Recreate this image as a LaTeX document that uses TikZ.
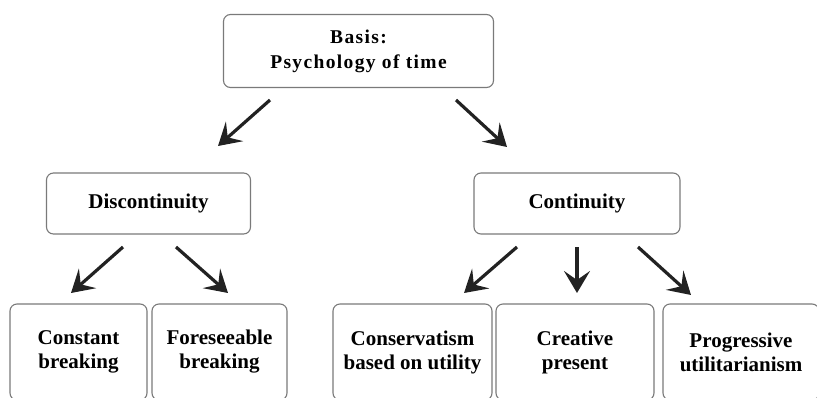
\documentclass[tikz,border=0pt]{standalone}
\usepackage{fontspec}
\setmainfont{Liberation Serif}
\newfontfamily\spacedfont[LetterSpace=7]{Liberation Serif}
\usetikzlibrary{arrows.meta}
\definecolor{boxline}{HTML}{7A7A7A}
\definecolor{arrowcol}{HTML}{222222}
\begin{document}
\begin{tikzpicture}[x=1pt,y=-1pt,
  box/.style={draw=boxline,line width=1.1pt,rounded corners=7pt,align=center,
    font=\bfseries\fontsize{21}{24}\selectfont,inner sep=0pt},
  arr/.style={draw=arrowcol,line width=3.2pt,
    -{Stealth[length=22pt,width=26pt,inset=9pt]}}]
\useasboundingbox (0,0) rectangle (817,397);
\clip (0,0) rectangle (817,397);
% top
\node[box,minimum width=270pt,minimum height=73pt,font=\bfseries\spacedfont\fontsize{19.5}{25}\selectfont] (basis) at (358.5,51) {Basis:\\Psychology of time};
% level 2
\node[box,minimum width=204pt,minimum height=61pt] (disc) at (148.5,203.5) {Discontinuity};
\node[box,minimum width=206pt,minimum height=61pt] (cont) at (577,203.5) {Continuity};
% level 3
\node[box,minimum width=137pt,minimum height=96pt] (cb) at (78.5,352) {Constant\\breaking};
\node[box,minimum width=135pt,minimum height=96pt] (fb) at (219.5,352) {Foreseeable\\breaking};
\node[box,minimum width=159pt,minimum height=96pt] (cons) at (412.5,352) {Conservatism\\based on utility};
\node[box,minimum width=158pt,minimum height=96pt] (crea) at (575,352) {Creative\\present};
\node[box,minimum width=156pt,minimum height=96pt] (prog) at (741,352) {Progressive\\utilitarianism};
% arrow end points
\coordinate (a1s) at (270,100); \coordinate (a1e) at (218,146);
\coordinate (a2s) at (456,100); \coordinate (a2e) at (507,147);
\coordinate (b1s) at (123,247); \coordinate (b1e) at (71,293);
\coordinate (b2s) at (176,247); \coordinate (b2e) at (228,293);
\coordinate (c1s) at (517,247); \coordinate (c1e) at (464,293);
\coordinate (c2s) at (577,247); \coordinate (c2e) at (577,293);
\coordinate (c3s) at (638,247); \coordinate (c3e) at (691,295);
\draw[arr] (a1s) -- (a1e);
\draw[arr] (a2s) -- (a2e);
\draw[arr] (b1s) -- (b1e);
\draw[arr] (b2s) -- (b2e);
\draw[arr] (c1s) -- (c1e);
\draw[arr] (c2s) -- (c2e);
\draw[arr] (c3s) -- (c3e);
\end{tikzpicture}
\end{document}
